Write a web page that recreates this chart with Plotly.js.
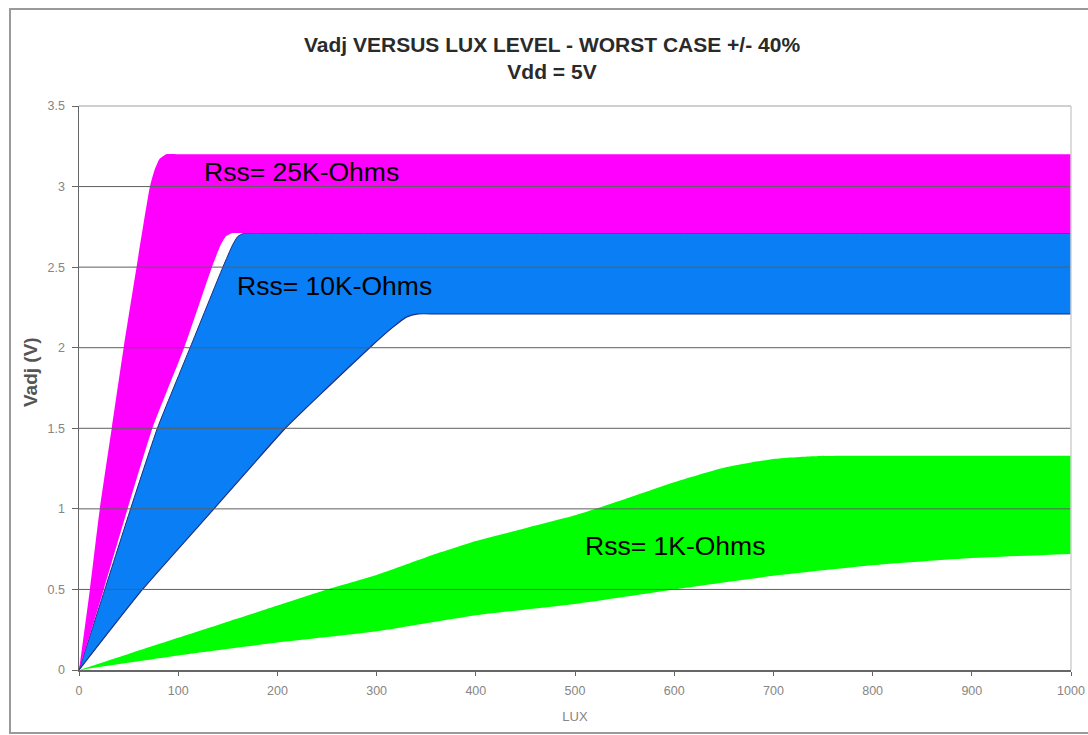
<!DOCTYPE html>
<html>
<head>
<meta charset="utf-8">
<script src="https://cdn.plot.ly/plotly-3.0.1.min.js"></script>
<style>
  html, body { margin: 0; padding: 0; background: #ffffff; }
  #chart { width: 1088px; height: 735px; }
</style>
</head>
<body>
<div id="chart"></div>
<script>
// ---- Data (LUX vs Vadj) ----
// Rss = 1K-Ohms band (green)
const lux1kLow  = [0, 100, 200, 300, 400, 500, 600, 700, 800, 900, 1000];
const v1kLow    = [0, 0.09, 0.17, 0.24, 0.34, 0.41, 0.50, 0.585, 0.65, 0.695, 0.72];
const lux1kHigh = [0, 50, 100, 150, 200, 250, 300, 350, 400, 450, 500, 550, 600, 650, 700, 740, 780, 820, 900, 1000];
const v1kHigh   = [0, 0.10, 0.20, 0.30, 0.40, 0.50, 0.59, 0.70, 0.80, 0.88, 0.96, 1.06, 1.165, 1.255, 1.31, 1.327, 1.33, 1.33, 1.33, 1.33];

// Rss = 10K-Ohms band (blue)
const lux10kLow  = [0, 64, 136, 208, 250, 293, 315, 330, 342, 360, 400, 1000];
const v10kLow    = [0, 0.50, 1.00, 1.50, 1.75, 2.00, 2.12, 2.19, 2.21, 2.21, 2.21, 2.21];
const lux10kHigh = [0, 26, 52, 79, 112, 145, 155, 160, 166, 180, 220, 1000];
const v10kHigh   = [0, 0.50, 1.00, 1.50, 2.00, 2.50, 2.64, 2.69, 2.71, 2.71, 2.71, 2.71];

// Rss = 10K/25K white gap edge and Rss = 25K-Ohms band (magenta)
const lux25kLow  = [0, 25, 49, 74, 106, 134, 143, 148, 154, 170, 210, 1000];
const v25kLow    = [0, 0.50, 1.00, 1.50, 2.00, 2.50, 2.64, 2.69, 2.71, 2.71, 2.71, 2.71];
const lux25kHigh = [0, 11, 21, 33, 45, 58, 71.5, 76, 81, 88, 100, 140, 1000];
const v25kHigh   = [0, 0.50, 1.00, 1.50, 2.00, 2.50, 3.00, 3.10, 3.17, 3.20, 3.20, 3.20, 3.20];

// Axis ticks
const xTicks = [0, 100, 200, 300, 400, 500, 600, 700, 800, 900, 1000];
const yTicks = [0, 0.5, 1, 1.5, 2, 2.5, 3, 3.5];

// Band labels
const labelTexts = ['Rss= 25K-Ohms', 'Rss= 10K-Ohms', 'Rss= 1K-Ohms'];
const labelLux   = [124, 157, 508];
const labelV     = [3.09, 2.38, 0.77];

const GREEN = '#00FF00', BLUE = '#0A7EF4', MAGENTA = '#FF00FF', NAVY = '#1B2F86';
const SPL = { shape: 'spline', smoothing: 0.5 };

const traces = [
  { x: lux1kLow,  y: v1kLow,  mode: 'lines', line: Object.assign({ width: 0 }, SPL), hoverinfo: 'skip' },
  { x: lux1kHigh, y: v1kHigh, mode: 'lines', line: Object.assign({ width: 0 }, SPL), fill: 'tonexty', fillcolor: GREEN, hoverinfo: 'skip' },
  { x: lux10kLow,  y: v10kLow,  mode: 'lines', line: Object.assign({ width: 1.2, color: NAVY }, SPL), hoverinfo: 'skip' },
  { x: lux10kHigh, y: v10kHigh, mode: 'lines', line: Object.assign({ width: 1, color: NAVY }, SPL), fill: 'tonexty', fillcolor: BLUE, hoverinfo: 'skip' },
  { x: lux25kLow,  y: v25kLow,  mode: 'lines', line: Object.assign({ width: 0 }, SPL), hoverinfo: 'skip' },
  { x: lux25kHigh, y: v25kHigh, mode: 'lines', line: Object.assign({ width: 0 }, SPL), fill: 'tonexty', fillcolor: MAGENTA, hoverinfo: 'skip' }
];

const L = 79, R = 17, T = 106, B = 65, W = 1088, H = 735;
const pw = W - L - R, ph = H - T - B;

const shapes = [];
// horizontal gridlines drawn above the filled bands
yTicks.forEach(v => {
  if (v > 0 && v < 3.5) {
    shapes.push({ type: 'line', xref: 'paper', yref: 'y', x0: 0, x1: 1, y0: v, y1: v,
                  line: { color: '#5e5e5e', width: 1 }, layer: 'above' });
  }
});
// plot-area border (top and right, light grey)
shapes.push({ type: 'line', xref: 'paper', yref: 'paper', x0: 0, x1: 1, y0: 1, y1: 1, line: { color: '#a0a0a0', width: 1 }, layer: 'above' });
shapes.push({ type: 'line', xref: 'paper', yref: 'paper', x0: 1, x1: 1, y0: 0, y1: 1, line: { color: '#cfcfcf', width: 1.5 }, layer: 'above' });
// outer chart frame
shapes.push({ type: 'rect', xref: 'paper', yref: 'paper',
  x0: (10 - L) / pw, x1: (1095 - L) / pw,
  y0: (H - B - 733) / ph, y1: (H - B - 9) / ph,
  line: { color: '#9a9a9a', width: 2 }, fillcolor: 'rgba(0,0,0,0)', layer: 'below' });

const annotations = labelTexts.map((t, i) => ({
  text: t, x: labelLux[i], y: labelV[i], xref: 'x', yref: 'y',
  xanchor: 'left', yanchor: 'middle', showarrow: false,
  font: { family: 'Liberation Sans, Arial, sans-serif', size: 26.5, color: '#000000' }
}));
// y-axis title
annotations.push({
  text: '<b>Vadj (V)</b>', xref: 'paper', yref: 'paper',
  x: (30 - L) / pw, y: (H - B - 372) / ph, xanchor: 'center', yanchor: 'middle',
  textangle: -90, showarrow: false,
  font: { family: 'Liberation Sans, Arial, sans-serif', size: 19, color: '#555555' }
});

const layout = {
  width: W, height: H,
  margin: { l: L, r: R, t: T, b: B, autoexpand: false },
  paper_bgcolor: '#ffffff', plot_bgcolor: '#ffffff',
  showlegend: false,
  font: { family: 'Liberation Sans, Arial, sans-serif' },
  title: {
    text: '<b>Vadj VERSUS LUX LEVEL - WORST CASE +/- 40%</b><br><b>Vdd = 5V</b>',
    font: { family: 'Liberation Sans, Arial, sans-serif', size: 21, color: '#2a2a2a' },
    x: 552 / W, xanchor: 'center', xref: 'container',
    y: 1 - 52 / H, yanchor: 'top', yref: 'container'
  },
  xaxis: {
    range: [0, 1000], tickvals: xTicks, ticktext: xTicks.map(String),
    ticks: 'outside', ticklen: 4, tickcolor: '#666', tickwidth: 1,
    showline: true, linecolor: '#666', linewidth: 1.5,
    showgrid: false, zeroline: false, fixedrange: true,
    tickfont: { size: 12.5, color: '#858585' }, ticklabelstandoff: 4,
    title: { text: 'LUX', font: { size: 13, color: '#858585' }, standoff: 15 }
  },
  yaxis: {
    range: [0, 3.5], tickvals: yTicks, ticktext: yTicks.map(String),
    ticks: 'outside', ticklen: 6, tickcolor: '#666', tickwidth: 1,
    showline: true, linecolor: '#666', linewidth: 1.5,
    showgrid: false, zeroline: false, fixedrange: true,
    tickfont: { size: 12.5, color: '#858585' }, ticklabelstandoff: 4
  },
  shapes: shapes,
  annotations: annotations
};

Plotly.newPlot('chart', traces, layout, { displayModeBar: false, staticPlot: true });
</script>
</body>
</html>
